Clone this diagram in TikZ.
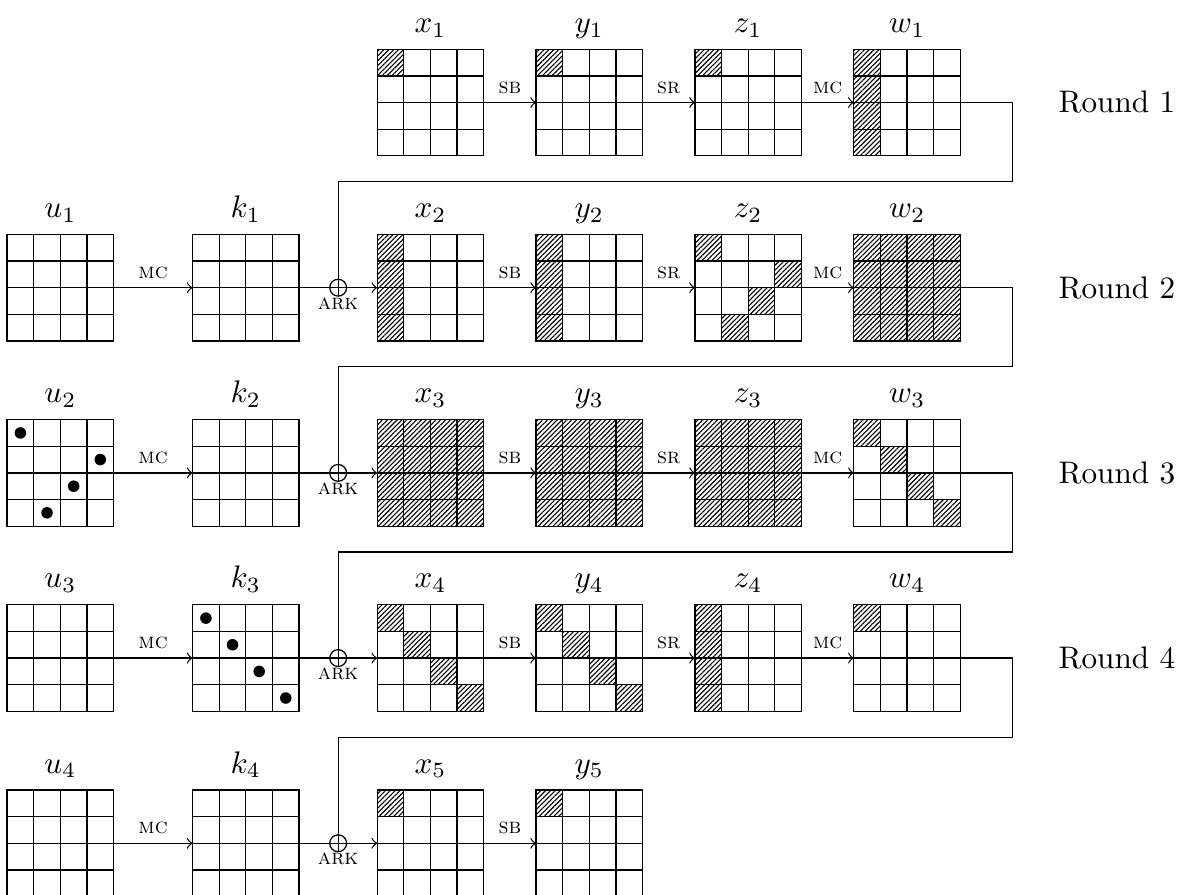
\documentclass[tikz,border=0pt]{standalone}
\usepackage{tikz}
\usetikzlibrary{calc,patterns.meta,positioning}

\begin{document}
\begin{tikzpicture}[
  state/.style={draw,rectangle,minimum size=1.2cm,inner sep=0pt,outer sep=0pt,anchor=north west},
  hatched/.style={pattern={Lines[angle=45,distance=1.1pt,line width=0.35pt]}},
  opname/.style={font=\scriptsize,inner sep=1pt},
  xor/.style={draw,circle,minimum size=1.9mm,inner sep=0pt,outer sep=0pt},
  dot/.style={fill,circle,minimum size=1.3mm,inner sep=0pt}]
\useasboundingbox (0,0) rectangle (13.34,-10.08);

% state matrices and their names
\foreach \s/\n/\px/\r in {x/1/4.25/0, y/1/6.04/0, z/1/7.83/0, w/1/9.62/0,
  u/1/0.08/1, k/1/2.17/1, x/2/4.25/1, y/2/6.04/1, z/2/7.83/1, w/2/9.62/1,
  u/2/0.08/2, k/2/2.17/2, x/3/4.25/2, y/3/6.04/2, z/3/7.83/2, w/3/9.62/2,
  u/3/0.08/3, k/3/2.17/3, x/4/4.25/3, y/4/6.04/3, z/4/7.83/3, w/4/9.62/3,
  u/4/0.08/4, k/4/2.17/4, x/5/4.25/4, y/5/6.04/4}
{
  \node[state] (\s\n) at (\px,{-0.555-2.0865*\r}) {};
  \node[anchor=base] (lab\s\n) at ($(\s\n.north)+(0,0.19)$) {$\s_{\n}$};
}

% active bytes (grid/row/col/width/height)
\foreach \g/\i/\j/\w/\h in {x1/0/0/1/1, y1/0/0/1/1, z1/0/0/1/1, w1/0/0/1/4,
  x2/0/0/1/4, y2/0/0/1/4, z2/0/0/1/1, z2/1/3/1/1, z2/2/2/1/1, z2/3/1/1/1, w2/0/0/4/4,
  x3/0/0/4/4, y3/0/0/4/4, z3/0/0/4/4, w3/0/0/1/1, w3/1/1/1/1, w3/2/2/1/1, w3/3/3/1/1,
  x4/0/0/1/1, x4/1/1/1/1, x4/2/2/1/1, x4/3/3/1/1, y4/0/0/1/1, y4/1/1/1/1, y4/2/2/1/1, y4/3/3/1/1,
  z4/0/0/1/4, w4/0/0/1/1, x5/0/0/1/1, y5/0/0/1/1}
  \path[hatched] ($(\g.north west)+({\j*0.3},{-\i*0.3})$) rectangle ++({\w*0.3},{-\h*0.3});

% cell lines
\foreach \g in {x1,y1,z1,w1,u1,k1,x2,y2,z2,w2,u2,k2,x3,y3,z3,w3,u3,k3,x4,y4,z4,w4,u4,k4,x5,y5}
  \foreach \t in {1,2,3} {
    \draw ($(\g.north west)+({\t*0.3},0)$) -- ($(\g.south west)+({\t*0.3},0)$);
    \draw ($(\g.north west)+(0,{-\t*0.3})$) -- ($(\g.north east)+(0,{-\t*0.3})$);
  }

% known key bytes
\foreach \g/\i/\j in {u2/0/0, u2/1/3, u2/2/2, u2/3/1, k3/0/0, k3/1/1, k3/2/2, k3/3/3}
  \node[dot] (dot\g\i\j) at ($(\g.north west)+({(\j+0.5)*0.3},{-(\i+0.5)*0.3})$) {};

% round operations
\foreach \a/\b/\op in {x1/y1/sb, y1/z1/sr, z1/w1/mc, u1/k1/mc, x2/y2/sb, y2/z2/sr, z2/w2/mc,
  u2/k2/mc, x3/y3/sb, y3/z3/sr, z3/w3/mc, u3/k3/mc, x4/y4/sb, y4/z4/sr, z4/w4/mc,
  u4/k4/mc, x5/y5/sb}
  \draw[->] (\a) -- node[opname,yshift=0.17cm] (op\a) {\textsc{\op}} (\b);

% key addition and feedback
\foreach \n/\m in {1/2,2/3,3/4,4/5} {
  \node[xor] (ark\n) at ($(k\n.east)!0.5!(x\m.west)$) {};
  \node[opname] (arklab\n) at ($(ark\n)+(0,-0.18)$) {\textsc{ark}};
  \draw[->] (k\n) -- (x\m);
  \coordinate (turn\n) at ($(w\n.east)+(0.59,-0.892)$);
  \draw (w\n.east) -| (turn\n) -| (ark\n.south);
}

\foreach \n in {1,...,4}
  \node[anchor=west,inner sep=0pt] (round\n) at (11.92,{-1.155-2.0865*(\n-1)}) {Round \n};
\end{tikzpicture}
\end{document}
